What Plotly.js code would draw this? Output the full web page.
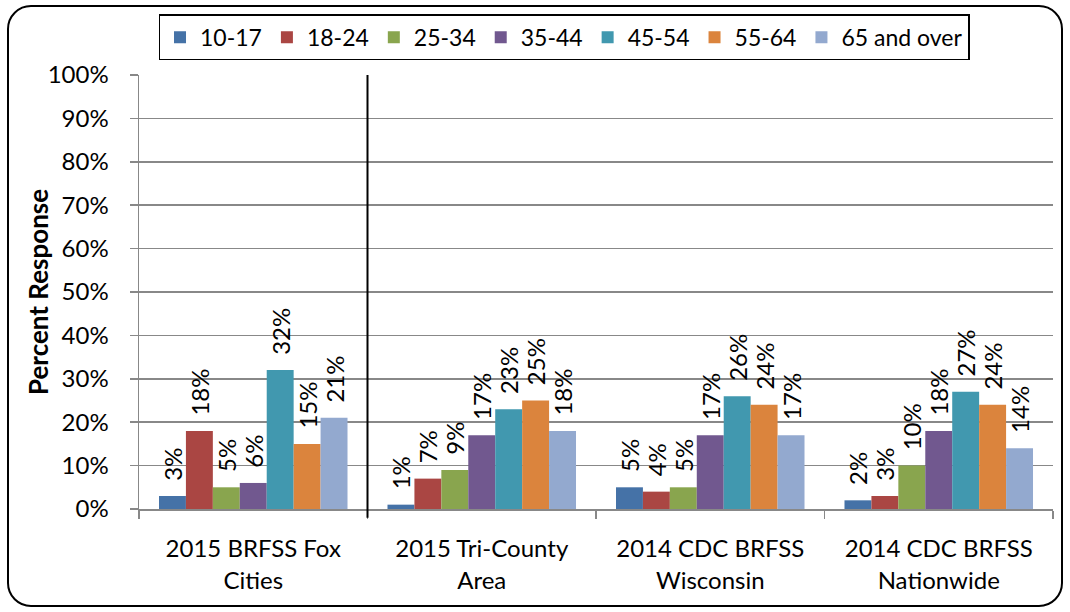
<!DOCTYPE html>
<html><head><meta charset="utf-8">
<script src="https://cdn.plot.ly/plotly-3.0.1.min.js"></script>
<style>
html,body{margin:0;padding:0;background:#fff;}
#wrap{position:relative;width:1070px;height:612px;}
#frame{position:absolute;left:7px;top:5px;width:1052px;height:598px;border:2px solid #000;border-radius:24px;pointer-events:none;}
#chart{position:absolute;left:0;top:0;width:1070px;height:612px;}
</style></head>
<body><div id="wrap"><div id="chart"></div><div id="frame"></div></div>
<script>
const categories = ["2015 BRFSS Fox<br>Cities", "2015 Tri-County<br>Area", "2014 CDC BRFSS<br>Wisconsin", "2014 CDC BRFSS<br>Nationwide"];
const seriesNames = ["10-17", "18-24", "25-34", "35-44", "45-54", "55-64", "65 and over"];
const v1017 = [3, 1, 5, 2];
const v1824 = [18, 7, 4, 3];
const v2534 = [5, 9, 5, 10];
const v3544 = [6, 17, 17, 18];
const v4554 = [32, 23, 26, 27];
const v5564 = [15, 25, 24, 24];
const v65 = [21, 18, 17, 14];
const seriesValues = [v1017, v1824, v2534, v3544, v4554, v5564, v65];
const colors = ["#4572A7", "#AA4643", "#89A54E", "#71588F", "#4198AF", "#DB843D", "#93A9CF"];
const yTickVals = [0,10,20,30,40,50,60,70,80,90,100];
const yTickText = yTickVals.map(v => v + "%");
const yTitle = "Percent Response";
const FONT = "Lato, 'Open Sans', sans-serif";

const traces = seriesNames.map((n, i) => ({
  type: "bar",
  name: n,
  x: categories,
  y: seriesValues[i],
  marker: {color: colors[i], line: {width: 0}},
  text: seriesValues[i].map(v => "\u00a0\u00a0" + v + "%"),
  textposition: "outside",
  textangle: -90,
  constraintext: "none",
  cliponaxis: false,
  textfont: {family: FONT, size: 24, color: "#000"},
  hoverinfo: "none"
}));

const layout = {
  width: 1070, height: 612,
  margin: {l: 139, r: 17, t: 75, b: 103},
  paper_bgcolor: "rgba(0,0,0,0)",
  plot_bgcolor: "#fff",
  barmode: "group",
  bargap: 0.175,
  bargroupgap: 0,
  font: {family: FONT, size: 24, color: "#000"},
  showlegend: true,
  legend: {
    orientation: "h", x: 0.465, xanchor: "center", y: 1.14, yanchor: "top",
    bordercolor: "#000", borderwidth: 1.5, bgcolor: "#fff",
    font: {family: FONT, size: 23, color: "#000"},
    itemwidth: 30, traceorder: "normal", tracegroupgap: 0
  },
  xaxis: {
    type: "category",
    tickson: "boundaries",
    ticks: "outside", ticklen: 8, tickcolor: "#888", tickwidth: 1.5,
    showline: true, linecolor: "#888", linewidth: 1.5,
    showgrid: false,
    ticklabelstandoff: 18,
    tickfont: {family: FONT, size: 24, color: "#000"},
    fixedrange: true
  },
  yaxis: {
    range: [0, 100],
    tickvals: yTickVals, ticktext: yTickText,
    ticks: "outside", ticklen: 8, tickcolor: "#888", tickwidth: 1.5,
    showline: true, linecolor: "#888", linewidth: 1.5,
    showgrid: true, gridcolor: "#888", gridwidth: 1.5,
    zeroline: false,
    ticklabelstandoff: 16,
    tickfont: {family: FONT, size: 24, color: "#000"},
    fixedrange: true
  },
  annotations: [{
    text: "<b>" + yTitle + "</b>", xref: "paper", yref: "paper",
    x: -0.1105, y: 0.5, xanchor: "center", yanchor: "middle",
    textangle: -90, showarrow: false,
    font: {family: FONT, size: 26, color: "#000"}
  }],
  shapes: [{
    type: "line", xref: "x", yref: "paper",
    x0: 0.5, x1: 0.5, y0: -0.02, y1: 1,
    line: {color: "#000", width: 2}
  }]
};

Plotly.newPlot("chart", traces, layout, {displayModeBar: false, staticPlot: true});
</script></body></html>
